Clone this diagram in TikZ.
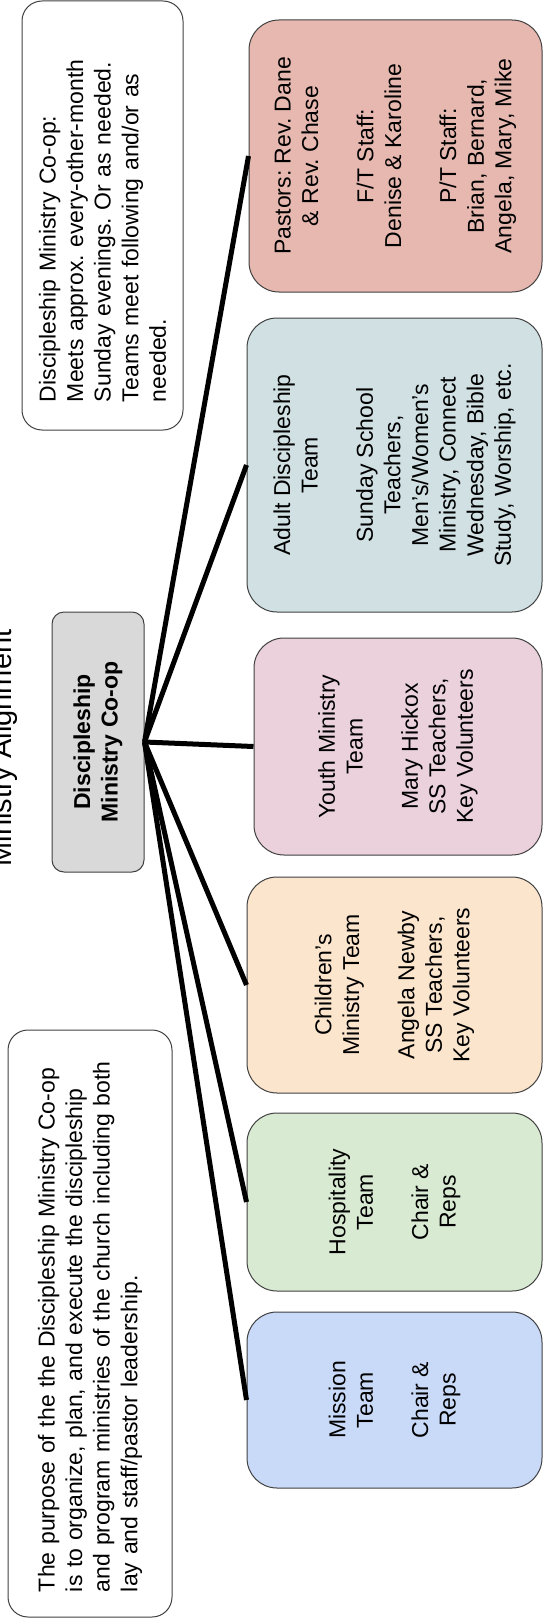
\documentclass[tikz,border=0pt]{standalone}
\usepackage{fontspec}
\setmainfont{Liberation Sans}
\usepackage{tikz}
\usepackage{xcolor}
\definecolor{berry}{HTML}{E6B8AF}
\definecolor{cyanlight}{HTML}{D0E0E3}
\definecolor{magentalight}{HTML}{EAD1DC}
\definecolor{orangelight}{HTML}{FCE5CD}
\definecolor{greenlight}{HTML}{D9EAD3}
\definecolor{bluelight}{HTML}{C9DAF8}
\definecolor{greylight}{HTML}{D9D9D9}
\frenchspacing

\begin{document}
\begin{tikzpicture}[x=1pt,y=-1pt]
        \useasboundingbox (0,0) rectangle (544,1621);

        \node[rotate=90, anchor=base, font=\fontsize{29}{34}\selectfont] (T) at (11,748) {Ministry Alignment};

        \begin{scope}[every node/.style = {rotate=90, draw=black!75, line width=1pt, inner sep=0pt,
                        align=center, font=\fontsize{23}{27.6}\selectfont}]
            \node[rounded corners=20pt, minimum width=429pt, minimum height=161pt, text width=373pt, align=left] (N) at (102.5,215.5)
                {Discipleship Ministry Co-op:\\ Meets approx. every-other-month\\ Sunday evenings. Or as needed.\\ Teams meet following and/or as\\ needed.};
            \node[rounded corners=20pt, minimum width=587pt, minimum height=164pt, text width=537pt, align=left] (P) at (90,1323.5)
                {The purpose of the the Discipleship Ministry Co-op\\ is to organize, plan, and execute the discipleship\\ and program ministries of the church including both\\ lay and staff/pastor leadership.};

            \node[rounded corners=12pt, fill=greylight, minimum width=260pt, minimum height=92pt, font=\fontsize{23}{27.6}\selectfont\bfseries] (A) at (98,742)
                {Discipleship\\ Ministry Co-op};

            \node[rounded corners=30pt, fill=berry, minimum width=272pt, minimum height=293pt] (B) at (395.5,156)
                {Pastors: Rev. Dane\\ \& Rev. Chase\\[27.6pt] F/T Staff:\\ Denise \& Karoline\\[27.6pt] P/T Staff:\\ Brian, Bernard,\\ Angela, Mary, Mike};
            \node[rounded corners=30pt, fill=cyanlight, minimum width=294pt, minimum height=295pt] (C) at (394.5,465)
                {Adult Discipleship\\ Team\\[27.6pt] Sunday School\\ Teachers,\\ Men's/Women's\\ Ministry, Connect\\ Wednesday, Bible\\ Study, Worship, etc.};
            \node[rounded corners=30pt, fill=magentalight, minimum width=217pt, minimum height=288pt] (D) at (398,746.5)
                {Youth Ministry\\ Team\\[27.6pt] Mary Hickox\\ SS Teachers,\\ Key Volunteers};
            \node[rounded corners=30pt, fill=orangelight, minimum width=216pt, minimum height=295pt] (E) at (394.5,985)
                {Children's\\ Ministry Team\\[27.6pt] Angela Newby\\ SS Teachers,\\ Key Volunteers};
            \node[rounded corners=30pt, fill=greenlight, minimum width=178pt, minimum height=295pt] (F) at (394.5,1202)
                {Hospitality\\ Team\\[27.6pt] Chair \&\\ Reps};
            \node[rounded corners=30pt, fill=bluelight, minimum width=176pt, minimum height=295pt] (G) at (394.5,1400)
                {Mission\\ Team\\[27.6pt] Chair \&\\ Reps};
        \end{scope}

        \begin{scope}[every edge/.style={draw=black, line width=5pt}]
            \path (A.south) edge (B.north);
            \path (A.south) edge (C.north);
            \path (A.south) edge (D.north);
            \path (A.south) edge (E.north);
            \path (A.south) edge (F.north);
            \path (A.south) edge (G.north);
        \end{scope}
    \end{tikzpicture}
\end{document}
